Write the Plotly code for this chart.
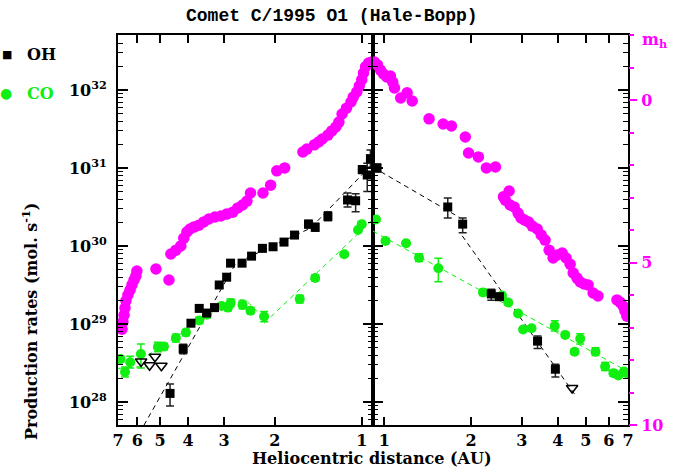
import math
import plotly.graph_objects as go

# ---------------- data ----------------
R_PERI = 0.914   # perihelion distance (AU)
R_MAX = 7.0

# heliocentric magnitude m_h (pre- and post-perihelion)
r_mag_in = [6.78, 6.73, 6.67, 6.62, 6.57, 6.47, 6.36, 6.26, 6.16, 6.07, 6.02, 5.17, 4.66, 4.59, 4.41,
            4.24, 4.14, 4.04, 3.94, 3.82, 3.67, 3.53, 3.39, 3.23, 3.08, 2.94, 2.80, 2.69, 2.59, 2.50,
            2.43, 2.20, 2.07, 1.97, 1.85, 1.60, 1.55, 1.46, 1.41, 1.37, 1.31, 1.27, 1.23, 1.20, 1.17,
            1.13, 1.09, 1.07, 1.04, 1.02, 1.00, 0.986, 0.97, 0.947, 0.925]
m_mag_in = [7.05, 6.83, 6.62, 6.40, 6.18, 6.00, 5.85, 5.69, 5.54, 5.42, 5.26, 5.20, 5.54, 4.74, 4.62,
            4.49, 4.25, 4.06, 3.97, 3.91, 3.85, 3.75, 3.66, 3.60, 3.57, 3.51, 3.45, 3.32, 3.23, 3.11,
            2.86, 2.86, 2.62, 2.18, 2.09, 1.60, 1.51, 1.38, 1.29, 1.20, 1.08, 0.95, 0.83, 0.68, 0.43,
            0.25, 0.06, -0.09, -0.25, -0.43, -0.62, -0.83, -1.02, -1.14, -1.17]
r_mag_out = [0.925, 0.947, 0.97, 0.994, 1.02, 1.05, 1.07, 1.085, 1.14, 1.20, 1.25, 1.43, 1.60, 1.71,
             1.91, 1.96, 2.12, 2.26, 2.43, 2.59, 2.71, 2.63, 2.73, 2.82, 2.91, 2.98, 3.06, 3.16, 3.26,
             3.39, 3.50, 3.61, 3.73, 3.85, 3.98, 4.14, 4.27, 4.41, 4.52, 4.66, 4.78, 4.93, 5.09, 5.30,
             5.51, 6.41, 6.57, 6.73, 6.83, 6.94]
m_mag_out = [-1.17, -1.08, -0.92, -0.80, -0.71, -0.74, -0.55, -0.37, -0.06, -0.22, 0.03, 0.58, 0.74,
             0.80, 1.14, 1.63, 1.75, 2.09, 2.06, 2.98, 2.80, 3.08, 3.23, 3.29, 3.48, 3.63, 3.69, 3.75,
             3.88, 3.97, 4.15, 4.31, 4.62, 4.86, 4.77, 4.71, 4.86, 5.05, 5.32, 5.48, 5.60, 5.66, 5.69,
             5.94, 6.03, 6.15, 6.22, 6.34, 6.49, 6.65]

# OH production rates (log10 mol/s) with errors in dex
r_oh_in = [4.62, 4.16, 3.91, 3.66, 3.45, 3.24, 3.12, 2.94, 2.85, 2.60, 2.41, 2.21, 2.03, 1.86, 1.71,
           1.53, 1.45, 1.31, 1.12, 1.05, 0.996, 0.957, 0.933]
lq_oh_in = [28.11, 28.68, 29.01, 29.20, 29.14, 29.21, 29.50, 29.60, 29.78, 29.78, 29.87, 29.97, 29.99,
            30.05, 30.14, 30.28, 30.24, 30.38, 30.59, 30.58, 30.98, 30.91, 31.12]
eh_oh_in = [0.12, 0.06, 0.04, 0.04, 0.04, 0.04, 0.04, 0.04, 0.04, 0.04, 0.04, 0.04, 0.04, 0.04, 0.04,
            0.05, 0.05, 0.06, 0.09, 0.09, 0.05, 0.15, 0.11]
el_oh_in = [0.16, 0.06, 0.04, 0.04, 0.04, 0.04, 0.04, 0.04, 0.04, 0.04, 0.04, 0.04, 0.04, 0.04, 0.04,
            0.05, 0.05, 0.055, 0.09, 0.14, 0.05, 0.21, 0.11]
r_oh_out = [0.944, 1.66, 1.87, 2.35, 2.51, 3.40, 3.92]
lq_oh_out = [31.00, 30.50, 30.28, 29.385, 29.35, 28.78, 28.42]
eh_oh_out = [0.05, 0.115, 0.08, 0.06, 0.04, 0.065, 0.065]
el_oh_out = [0.05, 0.14, 0.11, 0.08, 0.04, 0.095, 0.10]

# OH upper limits
r_ul_in = [5.82, 5.44, 5.21, 4.95]
lq_ul_in = [28.52, 28.47, 28.58, 28.465]
r_ul_out = [4.48]
lq_ul_out = [28.18]

# CO production rates
r_co_in = [6.87, 6.62, 6.35, 5.83, 5.09, 4.85, 4.41, 4.07, 3.66, 3.44, 3.06, 2.91, 2.85, 2.59, 2.43,
           2.18, 1.64, 1.45, 1.15, 1.03, 1.00]
lq_co_in = [28.55, 28.385, 28.51, 28.615, 28.705, 28.71, 28.82, 28.89, 29.045, 29.12, 29.23, 29.21,
            29.27, 29.245, 29.17, 29.095, 29.32, 29.59, 29.895, 30.205, 30.28]
eh_co_in = [0.04, 0.065, 0.075, 0.128, 0.06, 0.04, 0.05, 0.04, 0.04, 0.04, 0.04, 0.04, 0.05, 0.05,
            0.04, 0.065, 0.05, 0.04, 0.03, 0.03, 0.03]
el_co_in = [0.04, 0.065, 0.075, 0.18, 0.06, 0.04, 0.05, 0.04, 0.04, 0.04, 0.04, 0.04, 0.05, 0.05,
            0.04, 0.065, 0.05, 0.04, 0.03, 0.03, 0.03]
r_co_out = [0.936, 1.01, 1.19, 1.32, 1.54, 2.20, 2.56, 2.69, 2.91, 3.03, 3.24, 3.90, 4.24, 4.57, 4.78,
            5.40, 5.83, 6.23, 6.48, 6.78, 6.94]
lq_co_out = [30.34, 30.065, 30.035, 29.85, 29.715, 29.405, 29.365, 29.275, 29.135, 28.93, 28.945,
             28.975, 28.86, 28.645, 28.81, 28.645, 28.455, 28.37, 28.34, 28.39, 28.37]
eh_co_out = [0.03, 0.03, 0.03, 0.05, 0.128, 0.04, 0.03, 0.03, 0.03, 0.03, 0.03, 0.065, 0.03, 0.03,
             0.065, 0.05, 0.05, 0.04, 0.03, 0.03, 0.03]
el_co_out = [0.03, 0.03, 0.03, 0.05, 0.172, 0.04, 0.03, 0.03, 0.03, 0.03, 0.03, 0.065, 0.03, 0.03,
             0.065, 0.05, 0.05, 0.04, 0.03, 0.03, 0.03]

# power-law fits (dashed)
r_ohfit_in = [5.9, 2.73, 1.503, 0.914]
lq_ohfit_in = [27.60, 29.78, 30.23, 31.06]
r_ohfit_out = [0.914, 1.835, None, 1.864, 4.59]
lq_ohfit_out = [31.01, 30.36, None, 30.13, 28.09]
r_cofit_in = [7.0, 5.56, None, 5.51, 2.80, 2.53, 2.19, None, 2.18, 0.914]
lq_cofit_in = [28.43, 28.46, None, 28.60, 29.31, 29.31, 29.08, None, 29.01, 30.34]
r_cofit_out = [0.914, 7.0]
lq_cofit_out = [30.19, 28.39]

x_tick_vals = [1, 2, 3, 4, 5, 6, 7]
x_tick_text = ["1", "2", "3", "4", "5", "6", "7"]
y_tick_exp = [28, 29, 30, 31, 32]
m_tick_vals = [0, 5, 10]

# ---------------- helpers ----------------
MAG = "#ff00ff"
GRN = "#11ee11"
FONT = "DejaVu Serif"


def lin(v):
    return [None if a is None else 10.0 ** a for a in v]


def eplus(lq, e):
    return [10.0 ** a * (10.0 ** b - 1) for a, b in zip(lq, e)]


def eminus(lq, e):
    return [10.0 ** a * (1 - 10.0 ** (-b)) for a, b in zip(lq, e)]


fig = go.Figure()

# magnitudes
fig.add_trace(go.Scatter(x=r_mag_in, y=m_mag_in, xaxis="x", yaxis="y2", mode="markers",
                         marker=dict(color=MAG, size=11.5, line=dict(width=0))))
fig.add_trace(go.Scatter(x=r_mag_out, y=m_mag_out, xaxis="x2", yaxis="y3", mode="markers",
                         marker=dict(color=MAG, size=11.5, line=dict(width=0))))

# fits
dash = "5px,4px"
fig.add_trace(go.Scatter(x=r_ohfit_in, y=lin(lq_ohfit_in), xaxis="x", yaxis="y", mode="lines",
                         line=dict(color="black", width=1, dash=dash), connectgaps=False))
fig.add_trace(go.Scatter(x=r_ohfit_out, y=lin(lq_ohfit_out), xaxis="x2", yaxis="y4", mode="lines",
                         line=dict(color="black", width=1, dash=dash), connectgaps=False))
fig.add_trace(go.Scatter(x=r_cofit_in, y=lin(lq_cofit_in), xaxis="x", yaxis="y", mode="lines",
                         line=dict(color=GRN, width=1, dash=dash), connectgaps=False))
fig.add_trace(go.Scatter(x=r_cofit_out, y=lin(lq_cofit_out), xaxis="x2", yaxis="y4", mode="lines",
                         line=dict(color=GRN, width=1, dash=dash), connectgaps=False))

# CO
for rr, lq, eh, el, xa, ya in [(r_co_in, lq_co_in, eh_co_in, el_co_in, "x", "y"),
                               (r_co_out, lq_co_out, eh_co_out, el_co_out, "x2", "y4")]:
    fig.add_trace(go.Scatter(x=rr, y=lin(lq), xaxis=xa, yaxis=ya, mode="markers",
                             marker=dict(color=GRN, size=10, line=dict(width=0)),
                             error_y=dict(type="data", symmetric=False, array=eplus(lq, eh),
                                          arrayminus=eminus(lq, el), color=GRN, thickness=1.5,
                                          width=4)))
# OH
for rr, lq, eh, el, xa, ya in [(r_oh_in, lq_oh_in, eh_oh_in, el_oh_in, "x", "y"),
                               (r_oh_out, lq_oh_out, eh_oh_out, el_oh_out, "x2", "y4")]:
    fig.add_trace(go.Scatter(x=rr, y=lin(lq), xaxis=xa, yaxis=ya, mode="markers",
                             marker=dict(color="black", size=9, symbol="square", line=dict(width=0)),
                             error_y=dict(type="data", symmetric=False, array=eplus(lq, eh),
                                          arrayminus=eminus(lq, el), color="#222222", thickness=1.5,
                                          width=4)))
# upper limits
fig.add_trace(go.Scatter(x=r_ul_in, y=lin(lq_ul_in), xaxis="x", yaxis="y", mode="markers",
                         marker=dict(symbol="triangle-down-open", size=10, color="black",
                                     line=dict(width=1.5, color="black"))))
fig.add_trace(go.Scatter(x=r_ul_out, y=lin(lq_ul_out), xaxis="x2", yaxis="y4", mode="markers",
                         marker=dict(symbol="triangle-down-open", size=10, color="black",
                                     line=dict(width=1.5, color="black"))))

xr_in = [math.log10(R_MAX), math.log10(R_PERI)]
xr_out = [math.log10(R_PERI), math.log10(R_MAX)]
yr = [27.705, 32.705]
y_major = [10.0 ** e for e in y_tick_exp]
y_major_text = ["10<sup>%d</sup>" % e for e in y_tick_exp]
y_minor = [k * 10.0 ** e for e in range(27, 33) for k in range(2, 10)]

tfont = dict(family=FONT, size=16, color="black", weight="bold")

xcommon = dict(type="log", tickmode="array", tickvals=x_tick_vals, ticktext=x_tick_text,
               ticks="inside", ticklen=8, tickwidth=1.5, tickcolor="black", showline=True,
               linewidth=2, linecolor="black", mirror="ticks", showgrid=False, zeroline=False,
               tickfont=tfont, ticklabelstandoff=0)
ycommon = dict(type="log", range=yr, tickmode="array", tickvals=y_major, ticktext=y_major_text,
               ticks="inside", ticklen=10, tickwidth=1.5, tickcolor="black", showline=True,
               linewidth=2, linecolor="black", mirror="ticks", showgrid=False, zeroline=False,
               tickfont=tfont, ticklabelstandoff=6,
               minor=dict(tickmode="array", tickvals=y_minor, ticks="inside", ticklen=5,
                          tickwidth=1, tickcolor="black", showgrid=False))

fig.update_layout(
    width=679, height=475,
    margin=dict(l=118, r=51, t=35, b=50, autoexpand=False),
    paper_bgcolor="white", plot_bgcolor="white",
    showlegend=False,
    xaxis=dict(domain=[0, 0.5], range=xr_in, anchor="y", **xcommon),
    xaxis2=dict(domain=[0.5, 1], range=xr_out, anchor="y4", **xcommon),
    yaxis=dict(anchor="x", side="left", **ycommon),
    yaxis4=dict(anchor="x2", side="left", showticklabels=False, **ycommon),
    yaxis2=dict(overlaying="y", anchor="x", range=[10, -2], visible=False),
    yaxis3=dict(overlaying="y4", anchor="x2", side="right", range=[10, -2], tickmode="array",
                tickvals=m_tick_vals, ticktext=[str(v) for v in m_tick_vals], ticks="outside",
                ticklen=8, tickwidth=2, tickcolor=MAG, showline=False, showgrid=False,
                zeroline=False, ticklabelstandoff=1,
                tickfont=dict(family=FONT, size=16, color=MAG, weight="bold"),
                minor=dict(dtick=1, tick0=0, ticks="outside", ticklen=5, tickwidth=1.5,
                           tickcolor=MAG, showgrid=False)),
)

afont = dict(family=FONT, size=16, color="black", weight="bold")
ann = [
    dict(text="Comet C/1995 O1 (Hale-Bopp)", x=0.4196, y=1.048, xref="paper", yref="paper",
         showarrow=False, xanchor="center", yanchor="middle",
         font=dict(family="Liberation Mono", size=18, color="black", weight="bold")),
    dict(text="Heliocentric distance (AU)", x=0.498, y=-0.085, xref="paper", yref="paper",
         showarrow=False, xanchor="center", yanchor="middle", font=afont),
    dict(text="Production rates (mol. s<sup>-1</sup>)", x=-0.1725, y=0.264, xref="paper",
         yref="paper", showarrow=False, textangle=-90, xanchor="center", yanchor="middle",
         font=afont),
    dict(text="■", x=-0.218, y=0.949, xref="paper", yref="paper", showarrow=False,
         xanchor="center", yanchor="middle", font=dict(family="DejaVu Sans", size=11, color="black")),
    dict(text="OH", x=-0.1824, y=0.949, xref="paper", yref="paper", showarrow=False,
         xanchor="left", yanchor="middle", font=afont),
    dict(text="●", x=-0.2196, y=0.851, xref="paper", yref="paper", showarrow=False,
         xanchor="center", yanchor="middle", font=dict(family="DejaVu Sans", size=14, color=GRN)),
    dict(text="CO", x=-0.1824, y=0.851, xref="paper", yref="paper", showarrow=False,
         xanchor="left", yanchor="middle", font=dict(family=FONT, size=16, color=GRN, weight="bold")),
    dict(text="m<sub>h</sub>", x=1.0235, y=0.985, xref="paper", yref="paper", showarrow=False,
         xanchor="left", yanchor="middle", font=dict(family=FONT, size=16, color=MAG, weight="bold")),
]
fig.update_layout(annotations=ann)

fig.write_html("out.html", config={"displayModeBar": False},
               post_script="document.body.style.margin='0';")
